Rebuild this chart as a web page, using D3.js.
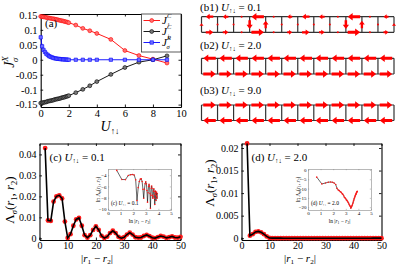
<!DOCTYPE html>
<html>
<head>
<meta charset="utf-8">
<script src="https://cdn.jsdelivr.net/npm/d3@7"></script>
<style>
body { margin: 0; background: #fff; }
text { font-family: "Liberation Serif", "DejaVu Serif", serif; fill: #000; }
</style>
</head>
<body>
<script>

// ---------- panel (a) data ----------
var uVals = [0, 0.1, 0.2, 0.3, 0.4, 0.5, 0.6, 0.7, 0.8, 0.9, 1.0, 1.1, 1.2, 1.3, 1.4, 1.5, 1.6, 1.7, 1.8, 1.9, 2.0,
             2.5, 3, 3.5, 4, 5, 6, 7, 8, 9];
var jUp = [0.145, 0.144, 0.1435, 0.1425, 0.1415, 0.1405, 0.1395, 0.1385, 0.1375, 0.137, 0.136, 0.135, 0.134, 0.1325,
           0.1315, 0.1305, 0.1295, 0.128, 0.127, 0.1255, 0.124,
           0.116, 0.105, 0.097, 0.088, 0.068, 0.031, 0.014, 0.002, -0.011];
var jDown = [-0.145, -0.144, -0.143, -0.142, -0.141, -0.139, -0.138, -0.137, -0.136, -0.135, -0.133, -0.132, -0.131,
             -0.130, -0.129, -0.127, -0.126, -0.125, -0.123, -0.122, -0.120,
             -0.110, -0.099, -0.087, -0.073, -0.049, -0.026, -0.008, 0.0, 0.013];
var jR = [0.075, 0.045, 0.033, 0.026, 0.020, 0.016, 0.012, 0.010, 0.008, 0.006, 0.005, 0.004, 0.003, 0.003,
          0.002, 0.002, 0.001, 0.001, 0.001, 0, 0,
          0, 0, 0, 0, 0, 0, 0, 0, 0];
var aXTicks = [0, 2, 4, 6, 8, 10];
var aYTicks = [-0.15, -0.1, -0.05, 0, 0.05, 0.1, 0.15];

// ---------- panel (b) currents (sign = direction, size = strength) ----------
var bonds = [0, 1, 2, 3, 4, 5, 6, 7, 8, 9, 10, 11];
var rungs = [0, 1, 2, 3, 4, 5, 6, 7, 8, 9, 10, 11, 12];
var b1Top = [-0.6, -0.45, -0.06, -1.0, -0.06, -0.4, -0.6, -0.45, -0.06, -1.0, -0.06, -0.4];
var b1Bot = [0.6, 0.45, 0.06, 1.0, 0.06, 0.4, 0.6, 0.45, 0.06, 1.0, 0.06, 0.4];
var b1Rung = [0.2, 0.06, 0.06, -0.7, 0.6, 0.06, 0.06, 0.06, 0.06, -0.7, 0.6, 0.06, 0.2];
var b2Top = [-1, -1, -1, -1, -1, -1, -1, -1, -1, -1, -1, -1];
var b2Bot = [1, 1, 1, 1, 1, 1, 1, 1, 1, 1, 1, 1];
var b3Top = [1, 1, 1, 1, 1, 1, 1, 1, 1, 1, 1, 1];
var b3Bot = [-1, -1, -1, -1, -1, -1, -1, -1, -1, -1, -1, -1];

// ---------- panels (c), (d) data ----------
var dist = [2, 3, 4, 5, 6, 7, 8, 9, 10, 11, 12, 13, 14, 15, 16, 17, 18, 19, 20, 21, 22, 23, 24, 25, 26,
            27, 28, 29, 30, 31, 32, 33, 34, 35, 36, 37, 38, 39, 40, 41, 42, 43, 44, 45, 46, 47, 48, 49, 50];
var lamC = [0.043, 0.0085, 0.0083, 0.0175, 0.0200, 0.0205, 0.019, 0.008, 0.0002, 0.002, 0.006, 0.009, 0.0097,
            0.006, 0.0015, 0.0003, 0.0015, 0.004, 0.0057, 0.004, 0.0012, 0.00015, 0.0008, 0.0025, 0.0036,
            0.0025, 0.0007, 0.00005, 0.0005, 0.0018, 0.0027, 0.0018, 0.0005, 0.0003, 0.0004, 0.0011, 0.0016,
            0.001, 0.0003, 0.0001, 0.0006, 0.0011, 0.0008, 0.0002, 0.0005, 0.0009, 0.0004, 0.0003, 0.0007];
var lamD = [0.021, 0.00055, 0.0009, 0.0014, 0.0015, 0.0013, 0.0009, 0.0004, 0.00005, 0.00002, 0.000015,
            8e-6, 6e-6, 3e-6, 2e-6, 1e-6, 4e-7, 3e-7, 2e-7, 1e-7, 8e-8, 5e-8, 3e-8, 2e-8, 1e-8, 6e-9, 4e-9,
            3e-9, 1.2e-9, 2e-9, 3e-9, 5e-9, 8e-9, 1.5e-8, 3e-8, 6e-8, 1e-7, 2e-7, 3e-7, 5e-7, 8e-7, 1.2e-6,
            1.8e-6, 2.3e-6, 3.5e-6, 5e-6, 7e-6, 8.5e-6, 1e-5];
var cYTicks = [0, 0.01, 0.02, 0.03, 0.04];
var dYTicks = [0, 0.005, 0.01, 0.015, 0.02];
var distTicks = [0, 10, 20, 30, 40, 50];
var insetXTicks = [0, 1, 2, 3, 4, 5];
var insetCYTicks = [-10, -8, -6, -4];
var insetDYTicks = [-20, -15, -10, -5, 0];

var svg = d3.select("body").append("svg")
    .attr("width", 399)
    .attr("height", 266);

function frame(x, y, xt, yt, xf, yf, fs, tick, col, sw, xpad) {
  var g = svg.append("g");
  var y0 = y.range()[0], y1 = y.range()[1], x0 = x.range()[0], x1 = x.range()[1];
  g.append("g").attr("transform", "translate(0," + y0 + ")")
      .call(d3.axisBottom(x).tickValues(xt).tickFormat(xf).tickSizeInner(-tick).tickSizeOuter(0).tickPadding(xpad));
  g.append("g").attr("transform", "translate(0," + y1 + ")")
      .call(d3.axisTop(x).tickValues(xt).tickFormat("").tickSizeInner(-tick).tickSizeOuter(0));
  g.append("g").attr("transform", "translate(" + x0 + ",0)")
      .call(d3.axisLeft(y).tickValues(yt).tickFormat(yf).tickSizeInner(-tick).tickSizeOuter(0).tickPadding(fs * 0.3));
  g.append("g").attr("transform", "translate(" + x1 + ",0)")
      .call(d3.axisRight(y).tickValues(yt).tickFormat("").tickSizeInner(-tick).tickSizeOuter(0));
  g.selectAll("path.domain").attr("stroke", col).attr("stroke-width", sw);
  g.selectAll(".tick line").attr("stroke", col).attr("stroke-width", sw * 0.8);
  g.selectAll("text").attr("font-family", "Liberation Serif").attr("font-size", fs).attr("fill", col === "#000" ? "#000" : "#333");
  return g;
}

// U with ↑↓ subscript
function uLabel(t, size) {
  t.append("tspan").attr("font-style", "italic").text("U");
  t.append("tspan").attr("font-size", size * 0.62).attr("dy", size * 0.22).text("↑↓");
}

// ================= panel (a) =================
var ax = d3.scaleLinear().domain([0, 10]).range([40.7, 181]);
var ay = d3.scaleLinear().domain([-0.158, 0.153]).range([107, 14]);
frame(ax, ay, aXTicks, aYTicks, d3.format("d"), function(d) { return d === 0 ? "0" : String(d); }, 10.5, 2.5, "#000", 1.1, 3);

var aLine = function(vals) {
  return d3.line().x(function(d, i) { return ax(uVals[i]); }).y(function(d) { return ay(d); })(vals);
};
var series = [
  {vals: jUp, col: "#ff0000", fill: "#ff7070", shape: "circle"},
  {vals: jDown, col: "#000000", fill: "#777777", shape: "circle"},
  {vals: jR, col: "#0000ff", fill: "#6f6fff", shape: "square"}
];
series.forEach(function(s) {
  svg.append("path").attr("d", aLine(s.vals)).attr("fill", "none").attr("stroke", s.col).attr("stroke-width", 0.9);
  var sym = d3.symbol().type(s.shape === "circle" ? d3.symbolCircle : d3.symbolSquare).size(s.shape === "circle" ? 12 : 11);
  svg.append("g").selectAll("path").data(s.vals).enter().append("path")
      .attr("d", sym)
      .attr("transform", function(d, i) { return "translate(" + ax(uVals[i]) + "," + ay(d) + ")"; })
      .attr("fill", s.fill).attr("stroke", s.col).attr("stroke-width", 0.6);
});

svg.append("text").attr("x", 45).attr("y", 27).attr("font-size", 11).text("(a)");

// legend
var leg = svg.append("g");
leg.append("rect").attr("x", 141.5).attr("y", 14).attr("width", 39.5).attr("height", 38)
    .attr("fill", "#fff").attr("stroke", "#333").attr("stroke-width", 0.8);
var legItems = [
  {col: "#ff0000", fill: "#ff7070", shape: "circle", sup: "C", sub: "↑"},
  {col: "#000000", fill: "#777777", shape: "circle", sup: "C", sub: "↓"},
  {col: "#0000ff", fill: "#6f6fff", shape: "square", sup: "R", sub: "σ"}
];
legItems.forEach(function(it, i) {
  var yy = 20.5 + i * 11;
  leg.append("line").attr("x1", 143.5).attr("x2", 160).attr("y1", yy).attr("y2", yy)
      .attr("stroke", it.col).attr("stroke-width", 0.9);
  leg.append("path").attr("d", d3.symbol().type(it.shape === "circle" ? d3.symbolCircle : d3.symbolSquare).size(12))
      .attr("transform", "translate(151.7," + yy + ")").attr("fill", it.fill).attr("stroke", it.col).attr("stroke-width", 0.6);
  var t = leg.append("text").attr("x", 162).attr("y", yy + 3.5).attr("font-size", 11);
  t.append("tspan").attr("font-style", "italic").text("J");
  t.append("tspan").attr("font-size", 6.5).attr("dy", -6.5).attr("font-style", "italic").text(it.sup);
  t.append("tspan").attr("font-size", 6.5).attr("dx", -4.3).attr("dy", 9.5).attr("font-style", it.sub === "σ" ? "italic" : "normal").text(it.sub);
});

// axis labels (a)
var aYl = svg.append("text").attr("transform", "translate(14,62) rotate(-90)").attr("text-anchor", "middle").attr("font-size", 14);
aYl.append("tspan").attr("font-style", "italic").text("J");
aYl.append("tspan").attr("font-size", 9).attr("dy", -6).attr("font-style", "italic").text("X");
aYl.append("tspan").attr("font-size", 9).attr("dx", -6).attr("dy", 10).attr("font-style", "italic").text("σ");
var aXl = svg.append("text").attr("x", 110).attr("y", 131).attr("text-anchor", "middle").attr("font-size", 14);
uLabel(aXl, 14);

// ================= panel (b) =================
var bx = d3.scaleLinear().domain([0, 12]).range([201.5, 394]);
var bs = d3.scaleLinear().domain([0, 1]).range([0, 12.5]);

function arrowPath(x1, y1, x2, y2, w, hw, hl) {
  var dx = x2 - x1, dy = y2 - y1, L = Math.hypot(dx, dy);
  var ux = dx / L, uy = dy / L, px = -uy, py = ux;
  hl = Math.min(hl, L);
  var bxp = x2 - ux * hl, byp = y2 - uy * hl;
  var p = [
    [x1 + px * w / 2, y1 + py * w / 2], [bxp + px * w / 2, byp + py * w / 2], [bxp + px * hw / 2, byp + py * hw / 2],
    [x2, y2], [bxp - px * hw / 2, byp - py * hw / 2], [bxp - px * w / 2, byp - py * w / 2], [x1 - px * w / 2, y1 - py * w / 2]
  ];
  return "M" + p.map(function(q) { return q[0].toFixed(2) + "," + q[1].toFixed(2); }).join("L") + "Z";
}

function drawArrow(g, cx, cy, v, horiz) {
  var m = Math.abs(v);
  if (m < 0.1) {
    g.append("circle").attr("cx", cx).attr("cy", cy).attr("r", 1).attr("fill", "#ff0000");
    return;
  }
  var L = bs(m), s = Math.max(0.55, Math.sqrt(m)), sg = v > 0 ? 1 : -1;
  var x1, y1, x2, y2;
  if (horiz) { x1 = cx - sg * L / 2; x2 = cx + sg * L / 2; y1 = y2 = cy; }
  else { y1 = cy + sg * L / 2; y2 = cy - sg * L / 2; x1 = x2 = cx; }
  g.append("path").attr("d", arrowPath(x1, y1, x2, y2, 3 * s, 7.5 * s, 5 * s)).attr("fill", "#ff0000");
}

function ladder(yTop, yBot, top, bot, rung, labelY, uText) {
  var g = svg.append("g");
  g.append("line").attr("x1", bx(0)).attr("x2", bx(12)).attr("y1", yTop).attr("y2", yTop).attr("stroke", "#333").attr("stroke-width", 1.2);
  g.append("line").attr("x1", bx(0)).attr("x2", bx(12)).attr("y1", yBot).attr("y2", yBot).attr("stroke", "#333").attr("stroke-width", 1.2);
  g.selectAll("line.r").data(rungs).enter().append("line").attr("class", "r")
      .attr("x1", function(d) { return bx(d); }).attr("x2", function(d) { return bx(d); })
      .attr("y1", yTop).attr("y2", yBot).attr("stroke", "#333").attr("stroke-width", 1.2);
  bonds.forEach(function(b) {
    drawArrow(g, bx(b + 0.5), yTop, top[b], true);
    drawArrow(g, bx(b + 0.5), yBot, bot[b], true);
  });
  if (rung) rungs.forEach(function(r) { drawArrow(g, bx(r), (yTop + yBot) / 2, rung[r], false); });
  var t = svg.append("text").attr("x", 200).attr("y", labelY).attr("font-size", 11);
  t.append("tspan").text(uText[0] + " ");
  uLabel(t, 11);
  t.append("tspan").attr("dy", -11 * 0.22).text(" = " + uText[1]);
}
ladder(16.7, 32.3, b1Top, b1Bot, b1Rung, 10.5, ["(b1)", "0.1"]);
ladder(58.3, 74, b2Top, b2Bot, null, 48.5, ["(b2)", "2.0"]);
ladder(105, 120.5, b3Top, b3Bot, null, 94, ["(b3)", "9.0"]);

// ================= panels (c) and (d) =================
function lambdaLabel(t, size) {
  t.append("tspan").text("Λ");
  t.append("tspan").attr("font-size", size * 0.65).attr("dy", size * 0.25).attr("font-style", "italic").text("σ");
  t.append("tspan").attr("dy", -size * 0.25).text("(");
  t.append("tspan").attr("font-style", "italic").text("r");
  t.append("tspan").attr("font-size", size * 0.65).attr("dy", size * 0.25).text("1");
  t.append("tspan").attr("dy", -size * 0.25).text(", ");
  t.append("tspan").attr("font-style", "italic").text("r");
  t.append("tspan").attr("font-size", size * 0.65).attr("dy", size * 0.25).text("2");
  t.append("tspan").attr("dy", -size * 0.25).text(")");
}
function distLabel(t, size) {
  t.append("tspan").text("|");
  t.append("tspan").attr("font-style", "italic").text("r");
  t.append("tspan").attr("font-size", size * 0.65).attr("dy", size * 0.2).text("1");
  t.append("tspan").attr("dy", -size * 0.2).text(" − ");
  t.append("tspan").attr("font-style", "italic").text("r");
  t.append("tspan").attr("font-size", size * 0.65).attr("dy", size * 0.2).text("2");
  t.append("tspan").attr("dy", -size * 0.2).text("|");
}

function corrPanel(opt) {
  var x = d3.scaleLinear().domain([0, 50]).range(opt.xr);
  var y = d3.scaleLinear().domain(opt.yd).range([240, 143.5]);
  frame(x, y, distTicks, opt.yTicks, d3.format("d"), function(d) { return d === 0 ? "0" : String(d); }, 10, 2.5, "#000", 1.1, 1.5);

  var g = svg.append("g");
  g.selectAll("circle").data(opt.vals).enter().append("circle")
      .attr("cx", function(d, i) { return x(dist[i]); }).attr("cy", function(d) { return y(d); })
      .attr("r", 2.4).attr("fill", "#ff1a1a");
  g.append("path").attr("d", d3.line().x(function(d, i) { return x(dist[i]); }).y(function(d) { return y(d); })(opt.vals))
      .attr("fill", "none").attr("stroke", "#000").attr("stroke-width", 1.6);

  var t = svg.append("text").attr("x", opt.xr[0] + 10).attr("y", 160.5).attr("font-size", 11);
  t.append("tspan").text(opt.tag + " ");
  uLabel(t, 11);
  t.append("tspan").attr("dy", -11 * 0.22).text(" = " + opt.u);

  var yl = svg.append("text").attr("transform", "translate(" + opt.ylx + "," + opt.yly + ") rotate(-90)")
      .attr("text-anchor", "middle").attr("font-size", 13);
  lambdaLabel(yl, 13);
  var xl = svg.append("text").attr("x", opt.xlx).attr("y", 261.5).attr("text-anchor", "middle").attr("font-size", 11);
  distLabel(xl, 11);

  // inset: logs of the same values
  var ix = d3.scaleLinear().domain([0, 5]).range(opt.ixr);
  var iy = d3.scaleLinear().domain(opt.iyd).range([210, 169]);
  svg.append("rect").attr("x", opt.ixr[0]).attr("y", 169).attr("width", opt.ixr[1] - opt.ixr[0]).attr("height", 41).attr("fill", "#fff");
  frame(ix, iy, insetXTicks, opt.iyTicks, d3.format("d"), d3.format("d"), 5, 1.2, "#888", 0.6, 1.5);
  var ig = svg.append("g");
  ig.append("path").attr("d", d3.line().x(function(d, i) { return ix(Math.log(dist[i])); }).y(function(d) { return iy(Math.log(d)); })(opt.vals))
      .attr("fill", "none").attr("stroke", "#000").attr("stroke-width", 0.6);
  ig.selectAll("circle").data(opt.vals).enter().append("circle")
      .attr("cx", function(d, i) { return ix(Math.log(dist[i])); }).attr("cy", function(d) { return iy(Math.log(d)); })
      .attr("r", 0.8).attr("fill", "#ff1a1a");
  var it = svg.append("text").attr("x", opt.ixr[0] + 3).attr("y", 205).attr("font-size", 5.5);
  it.append("tspan").text(opt.tag + " ");
  uLabel(it, 5.5);
  it.append("tspan").attr("dy", -5.5 * 0.22).text(" = " + opt.u);
  var iyl = svg.append("text").attr("transform", "translate(" + (opt.ixr[0] - 8) + ",189.5) rotate(-90)")
      .attr("text-anchor", "middle").attr("font-size", 5.5);
  iyl.append("tspan").text("ln ");
  lambdaLabel(iyl, 5.5);
  var ixl = svg.append("text").attr("x", (opt.ixr[0] + opt.ixr[1]) / 2).attr("y", 223).attr("text-anchor", "middle").attr("font-size", 5.5);
  ixl.append("tspan").text("ln ");
  distLabel(ixl, 5.5);
}

corrPanel({xr: [39.5, 180.5], yd: [-0.0008, 0.0452], yTicks: cYTicks, vals: lamC, tag: "(c)", u: "0.1",
           ylx: 14, yly: 200, xlx: 97, ixr: [108, 171], iyd: [-10.2, -2.9], iyTicks: insetCYTicks});
corrPanel({xr: [241.5, 381.5], yd: [-0.0004, 0.021], yTicks: dYTicks, vals: lamD, tag: "(d)", u: "2.0",
           ylx: 214, yly: 183, xlx: 300, ixr: [308, 371], iyd: [-21.5, 0.5], iyTicks: insetDYTicks});

</script>
</body>
</html>
